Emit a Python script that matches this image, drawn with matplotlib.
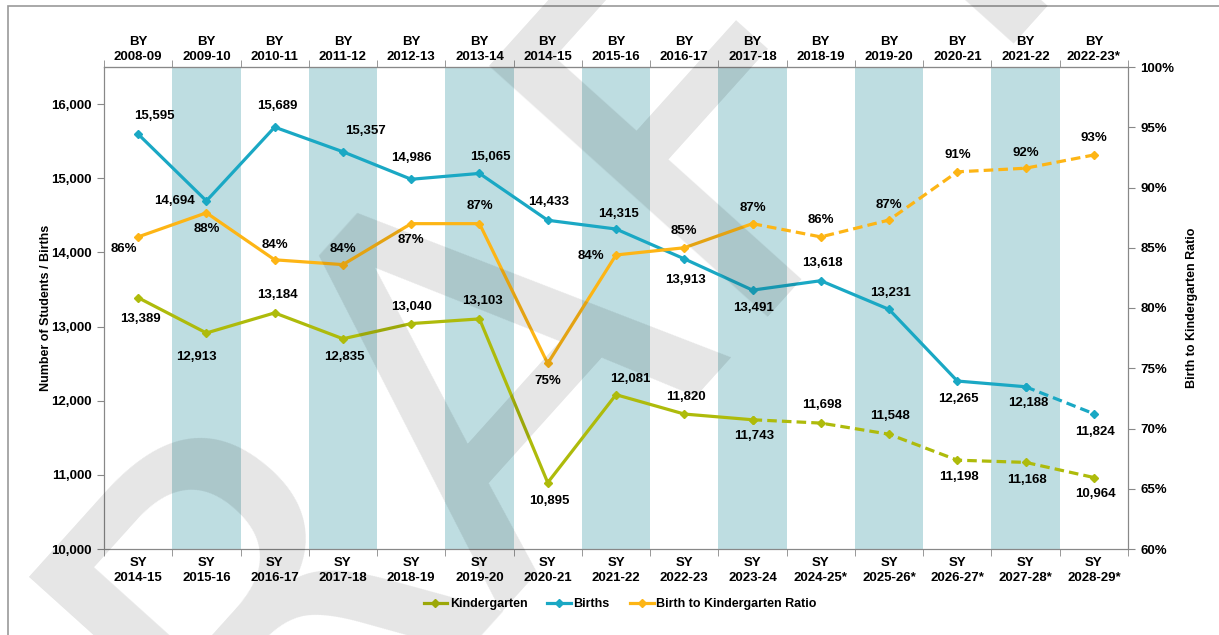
import numpy as np
import matplotlib.pyplot as plt
from matplotlib.patches import Rectangle

plt.rcParams['font.family'] = ['Liberation Sans', 'DejaVu Sans']
plt.rcParams['font.weight'] = 'bold'

# chart data
sy_labels = ['2014-15', '2015-16', '2016-17', '2017-18', '2018-19', '2019-20', '2020-21',
             '2021-22', '2022-23', '2023-24', '2024-25*', '2025-26*', '2026-27*',
             '2027-28*', '2028-29*']
by_labels = ['2008-09', '2009-10', '2010-11', '2011-12', '2012-13', '2013-14', '2014-15',
             '2015-16', '2016-17', '2017-18', '2018-19', '2019-20', '2020-21',
             '2021-22', '2022-23*']
kindergarten = [13389, 12913, 13184, 12835, 13040, 13103, 10895, 12081, 11820, 11743,
                11698, 11548, 11198, 11168, 10964]
births = [15595, 14694, 15689, 15357, 14986, 15065, 14433, 14315, 13913, 13491,
          13618, 13231, 12265, 12188, 11824]
ratio = [85.9, 87.9, 84.0, 83.6, 87.0, 87.0, 75.4, 84.4, 85.0, 87.0,
         85.9, 87.3, 91.3, 91.6, 92.7]
kg_proj_start = 9
births_proj_start = 13
ratio_proj_start = 9

# label offsets in points (dx, dy)
kg_off = [(2, -15), (-7, -17), (2, 13), (1, -13), (0, 12), (2, 13), (1, -13), (10, 11),
          (1, 12), (1, -12), (1, 13), (1, 13), (1, -12), (1, -13), (1, -12)]
births_off = [(12, 13), (-23, 0), (2, 15), (16, 15), (0, 15), (8, 12), (1, 13), (2, 11),
              (1, -15), (1, -13), (1, 13), (1, 12), (1, -13), (2, -12), (1, -13)]
ratio_off = [(-10, -9), (0, -12), (0, 11), (0, 11), (0, -12), (0, 13), (0, -13), (-18, -1),
             (0, 12), (0, 11), (0, 12), (0, 11), (0, 12), (0, 11), (0, 12)]

c_kg = '#AEBB0B'
c_births = '#1AA8C4'
c_ratio = '#FDB515'
c_band = '#BEDDE1'

x = np.arange(len(sy_labels))

fig = plt.figure(figsize=(12.19, 6.35), dpi=100)
ax = fig.add_axes([104 / 1219, 1 - 549 / 635, 1024 / 1219, 482 / 635])
ax2 = ax.twinx()
ax.set_zorder(1)
ax2.set_zorder(2)
ax.patch.set_visible(False)

for i in range(1, len(x), 2):
    ax.axvspan(i - 0.5, i + 0.5, color=c_band, lw=0, zorder=0)


def draw(a, vals, start, color, label):
    a.plot(x[:start + 1], vals[:start + 1], color=color, lw=2.3, marker='D', ms=4.5,
           label=label, zorder=3)
    a.plot(x[start:], vals[start:], color=color, lw=2.3, ls=(0, (3, 1.6)), marker='D',
           ms=4.5, zorder=3)


draw(ax, kindergarten, kg_proj_start, c_kg, 'Kindergarten')
draw(ax, births, births_proj_start, c_births, 'Births')
draw(ax2, ratio, ratio_proj_start, c_ratio, 'Birth to Kindergarten Ratio')

fs = 9.5
for i in x:
    ax.annotate(f'{kindergarten[i]:,}', (i, kindergarten[i]), xytext=kg_off[i],
                textcoords='offset points', ha='center', va='center', fontsize=fs, zorder=5)
    ax.annotate(f'{births[i]:,}', (i, births[i]), xytext=births_off[i],
                textcoords='offset points', ha='center', va='center', fontsize=fs, zorder=5)
    ax2.annotate(f'{ratio[i]:.0f}%', (i, ratio[i]), xytext=ratio_off[i],
                 textcoords='offset points', ha='center', va='center', fontsize=fs, zorder=5)

ax.set_xlim(-0.5, len(x) - 0.5)
ax.set_ylim(10000, 16500)
ax.set_yticks(range(10000, 16001, 1000))
ax.set_yticklabels([f'{v:,}' for v in range(10000, 16001, 1000)], fontsize=fs)
ax2.set_ylim(60, 100)
ax2.set_yticks(range(60, 101, 5))
ax2.set_yticklabels([f'{v}%' for v in range(60, 101, 5)], fontsize=fs)

ax.set_xticks(x)
ax.set_xticklabels(['SY\n' + s for s in sy_labels], fontsize=fs, linespacing=1.3)
ax.set_xticks(np.arange(-0.5, len(x), 1), minor=True)
ax.tick_params(axis='x', which='major', length=0, pad=6)
ax.tick_params(axis='x', which='minor', length=5, color='#888888', top=True)
ax.tick_params(axis='y', length=5, color='#888888', pad=4)
ax2.tick_params(axis='y', length=5, color='#888888', pad=4)

top = ax.secondary_xaxis('top')
top.set_xticks(x)
top.set_xticklabels(['BY\n' + s for s in by_labels], fontsize=fs, linespacing=1.3)
top.tick_params(length=0, pad=3)
top.spines['top'].set_color('#888888')

for a in (ax, ax2):
    for s in a.spines.values():
        s.set_color('#888888')

ax.set_ylabel('Number of Students / Births', fontsize=9, fontweight='bold', labelpad=-1)
ax2.set_ylabel('Birth to Kindergarten Ratio', fontsize=9, fontweight='bold', labelpad=8)

fig.legend(handles=ax.get_lines()[::2] + ax2.get_lines()[::2], loc='center',
           bbox_to_anchor=(620 / 1219, 1 - 604 / 635), ncol=3, frameon=False,
           fontsize=9, handlelength=1.9, columnspacing=1.6, handletextpad=0.2)

# watermark
fig.text(0.37, 0.37, 'DRAFT', fontsize=370, family='DejaVu Sans', fontweight='normal',
         color='black', alpha=0.1, rotation=48, ha='center', va='center', zorder=10)

fig.patches.append(Rectangle((8 / 1219, -0.01), 1.02, 1 - 6 / 635 + 0.01,
                             transform=fig.transFigure, fill=False, ec='#999999', lw=1.2))

fig.savefig('out.png', dpi=100)
